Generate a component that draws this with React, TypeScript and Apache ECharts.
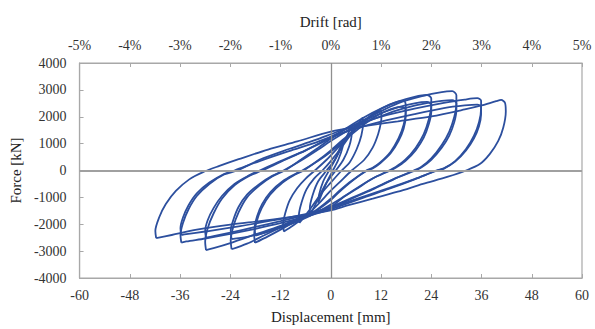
import React, { useEffect, useRef } from "react";
import * as echarts from "echarts";

// Axis ticks
const displacementTicks = [-60, -48, -36, -24, -12, 0, 12, 24, 36, 48, 60];
const driftTicks = [-5, -4, -3, -2, -1, 0, 1, 2, 3, 4, 5];
const forceTicks = [-4000, -3000, -2000, -1000, 0, 1000, 2000, 3000, 4000];

// Hysteresis loops [displacement mm, force kN]
const cycle3 = [[-3, -1200], [-2.8, -900], [-1.8, -400], [-0.4, 0], [1, 400], [3, 1150], [2.8, 850], [1.8, 400], [0.5, 0], [-1, -450], [-3, -1200]];
const cycle6 = [[-5, -1700], [-5, -1400], [-4.3, -900], [-3, -400], [-1, 0], [1, 400], [3, 1000], [5, 1650], [5, 1400], [4.4, 900], [3, 400], [1.2, 0], [-1, -450], [-3, -1050], [-5, -1700]];
const cycle9 = [[-7.5, -1950], [-7.6, -1650], [-7, -1200], [-5.8, -700], [-4, -300], [-2, 0], [0, 350], [3, 950], [5.5, 1500], [7.6, 1960], [7.7, 1750], [7.3, 1300], [6.2, 800], [4.5, 300], [2.6, 0], [0, -450], [-2.5, -900], [-5, -1450], [-7.5, -1950]];
const cycle12 = [[-11.2, -2270], [-11.4, -2000], [-10.9, -1600], [-9.8, -1100], [-8, -650], [-6, -300], [-3.8, 0], [-1, 400], [2, 900], [5, 1400], [8, 1850], [10.5, 2100], [11.9, 2220], [12.1, 2050], [12, 1800], [11.3, 1350], [10, 850], [8, 400], [5, 0], [2, -450], [0, -750], [-3, -1250], [-6, -1700], [-9, -2050], [-11.2, -2270]];
const cycle18a = [[-18.1, -2690], [-18.3, -2400], [-17.7, -1900], [-16.5, -1400], [-14.5, -900], [-11.5, -450], [-8.5, -150], [-6.5, 0], [-3, 380], [0, 750], [4, 1300], [8, 1850], [11, 2200], [14, 2450], [16.5, 2580], [17.5, 2590], [17.9, 2450], [17.9, 2200], [17.4, 1700], [16.2, 1200], [14.3, 700], [11.8, 300], [10, 100], [8.5, 0], [5, -400], [2, -800], [0, -1100], [-4, -1550], [-8, -1850], [-12, -2200], [-15, -2450], [-18.1, -2690]];
const cycle18b = [[-18, -2420], [-18.2, -2150], [-17.6, -1700], [-16.4, -1250], [-14.4, -800], [-11.5, -400], [-8.5, -130], [-6.8, 0], [-3, 360], [0, 700], [4, 1220], [8, 1720], [11, 2040], [14, 2260], [16.5, 2370], [17.8, 2300], [17.9, 2020], [17.4, 1550], [16.2, 1100], [14.3, 640], [11.8, 270], [10, 80], [8.7, 0], [5, -380], [2, -760], [0, -1050], [-4, -1530], [-8, -1800], [-12, -2080], [-15, -2280], [-18, -2420]];
const cycle24a = [[-23.7, -2930], [-23.9, -2600], [-23.3, -2100], [-22, -1550], [-20, -1000], [-17, -550], [-14, -220], [-11, 0], [-7, 420], [-3, 850], [0, 1180], [4, 1600], [8, 1980], [12, 2300], [16, 2560], [20, 2740], [23, 2810], [24, 2680], [24, 2400], [23.4, 1900], [22.2, 1350], [20.3, 850], [17.8, 400], [15.5, 130], [13.9, 0], [10, -300], [6, -700], [3, -1000], [0, -1350], [-4, -1580], [-8, -1830], [-12, -2120], [-16, -2420], [-20, -2720], [-23.7, -2930]];
const cycle24b = [[-23.7, -2550], [-23.9, -2250], [-23.3, -1850], [-22, -1350], [-20, -900], [-17, -500], [-14, -200], [-11.3, 0], [-7, 380], [-3, 780], [0, 1100], [4, 1480], [8, 1840], [12, 2130], [16, 2350], [20, 2500], [23, 2550], [24, 2430], [24, 2180], [23.4, 1720], [22.2, 1220], [20.3, 760], [17.8, 350], [15.5, 100], [14.2, 0], [10, -300], [6, -680], [3, -980], [0, -1270], [-4, -1620], [-8, -1900], [-12, -2130], [-16, -2320], [-20, -2470], [-23.7, -2550]];
const cycle30a = [[-29.8, -2960], [-30, -2650], [-29.4, -2150], [-28, -1600], [-26, -1050], [-23, -550], [-19.5, -200], [-16.4, 0], [-12, 320], [-6, 750], [0, 1250], [5, 1650], [10, 2050], [16, 2500], [22, 2780], [26.5, 2920], [29, 2950], [30, 2800], [30, 2500], [29.5, 2000], [28.3, 1450], [26.5, 950], [24, 450], [21.5, 120], [19.8, 0], [15, -330], [10, -700], [5, -1050], [0, -1400], [-4, -1600], [-8, -1820], [-12, -2060], [-18, -2380], [-24, -2700], [-28, -2890], [-29.8, -2960]];
const cycle30b = [[-29.8, -2500], [-30, -2250], [-29.4, -1850], [-28, -1400], [-26, -950], [-23, -500], [-19.5, -180], [-17, 0], [-12, 350], [-6, 750], [0, 1200], [5, 1550], [10, 1900], [16, 2250], [22, 2480], [26.5, 2590], [29, 2620], [30, 2500], [30, 2250], [29.5, 1800], [28.3, 1300], [26.5, 850], [24, 400], [21.5, 100], [20.2, 0], [15, -320], [10, -680], [5, -1020], [0, -1350], [-6, -1650], [-12, -1880], [-18, -2100], [-24, -2310], [-28, -2440], [-29.8, -2500]];
const cycle36a = [[-35.7, -2680], [-35.9, -2400], [-35.3, -1950], [-34, -1450], [-32, -950], [-29, -500], [-25.5, -150], [-22.3, 0], [-17, 400], [-10, 800], [-4, 1120], [0, 1350], [6, 1700], [12, 2000], [20, 2300], [27, 2520], [32, 2640], [35, 2690], [35.9, 2600], [35.9, 2300], [35.4, 1800], [34.2, 1300], [32.3, 800], [29.7, 350], [27, 80], [25.2, 0], [20, -330], [14, -680], [8, -1000], [3, -1280], [0, -1450], [-6, -1720], [-12, -1960], [-18, -2170], [-24, -2360], [-30, -2530], [-34.5, -2640], [-35.7, -2680]];
const cycle36b = [[-35.7, -2400], [-35.9, -2150], [-35.3, -1750], [-34, -1300], [-32, -850], [-29, -450], [-25.5, -130], [-23, 0], [-17, 350], [-10, 720], [-4, 1020], [0, 1250], [6, 1560], [12, 1820], [20, 2100], [27, 2320], [32, 2420], [35, 2450], [35.9, 2380], [35.9, 2100], [35.4, 1650], [34.2, 1200], [32.3, 750], [29.7, 330], [27, 70], [25.5, 0], [20, -320], [14, -650], [8, -960], [3, -1230], [0, -1380], [-6, -1620], [-14, -1860], [-22, -2080], [-30, -2270], [-34.5, -2370], [-35.7, -2400]];
const cycle42 = [[-41.7, -2520], [-41.9, -2250], [-41, -1750], [-39.4, -1250], [-37, -760], [-33.8, -330], [-30.5, -60], [-26.6, 170], [-22, 420], [-15, 780], [-8, 1080], [0, 1450], [8, 1650], [16, 1830], [24, 2010], [32, 2270], [36, 2420], [39.5, 2580], [40.7, 2625], [41.6, 2520], [41.8, 2200], [41.2, 1600], [40, 1100], [38, 620], [35.6, 240], [32.3, 0], [28, -230], [22, -500], [16, -790], [10, -1050], [4, -1300], [0, -1480], [-8, -1700], [-16, -1870], [-24, -2010], [-32, -2200], [-38, -2400], [-41.7, -2520]];

const loops = [cycle3, cycle6, cycle9, cycle12, cycle18a, cycle18b, cycle24a, cycle24b, cycle30a, cycle30b, cycle36a, cycle36b, cycle42];

const FONT = '"Liberation Serif", "Times New Roman", serif';
const LINE_BLUE = "#2c4f9e";
const GRAY = "#a8a8a8";

export default function App() {
  const ref = useRef<HTMLDivElement>(null);
  useEffect(() => {
    if (!ref.current) return;
    const chart = echarts.init(ref.current, undefined, { renderer: "svg" });
    const tickLabel = { fontFamily: FONT, fontSize: 14, color: "#333" };
    const nameText = { fontFamily: FONT, fontSize: 15, color: "#222" };
    const series: any[] = loops.map((pts) => ({
      type: "line",
      data: pts,
      xAxisIndex: 0,
      yAxisIndex: 0,
      showSymbol: false,
      smooth: 0.3,
      z: 3,
      lineStyle: { color: LINE_BLUE, width: 1.8 },
      itemStyle: { color: LINE_BLUE },
      silent: true,
    }));
    series.unshift({
      type: "line",
      data: [],
      z: 1,
      markLine: {
        silent: true,
        symbol: "none",
        label: { show: false },
        animation: false,
        data: [
          { xAxis: 0, lineStyle: { color: "#8f8f8f", width: 1.3, type: "solid" } },
          { yAxis: 0, lineStyle: { color: "#a0a0a0", width: 2, type: "solid" } },
        ],
      },
    });
    chart.setOption({
      animation: false,
      backgroundColor: "#ffffff",
      grid: {
        left: 76,
        right: 13,
        top: 63,
        bottom: 49,
        show: true,
        borderColor: GRAY,
        borderWidth: 1.2,
        backgroundColor: "transparent",
      },
      xAxis: [
        {
          type: "value",
          position: "bottom",
          min: displacementTicks[0],
          max: displacementTicks[displacementTicks.length - 1],
          interval: displacementTicks[1] - displacementTicks[0],
          name: "Displacement [mm]",
          nameLocation: "middle",
          nameGap: 31,
          nameTextStyle: nameText,
          axisLine: { show: true, onZero: false, lineStyle: { color: GRAY, width: 1.2 } },
          axisTick: { show: true, inside: true, length: 4, lineStyle: { color: GRAY } },
          axisLabel: { ...tickLabel, margin: 10, formatter: (v: number) => String(v) },
          splitLine: { show: false },
        },
        {
          type: "value",
          position: "top",
          min: driftTicks[0],
          max: driftTicks[driftTicks.length - 1],
          interval: driftTicks[1] - driftTicks[0],
          name: "Drift [rad]",
          nameLocation: "middle",
          nameGap: 34,
          nameTextStyle: nameText,
          axisLine: { show: true, onZero: false, lineStyle: { color: GRAY, width: 1.2 } },
          axisTick: { show: true, inside: true, length: 4, lineStyle: { color: GRAY } },
          axisLabel: { ...tickLabel, margin: 11, formatter: (v: number) => `${v}%` },
          splitLine: { show: false },
        },
      ],
      yAxis: {
        type: "value",
        min: forceTicks[0],
        max: forceTicks[forceTicks.length - 1],
        interval: forceTicks[1] - forceTicks[0],
        name: "Force [kN]",
        nameLocation: "middle",
        nameGap: 52,
        nameRotate: 90,
        nameTextStyle: nameText,
        axisLine: { show: true, onZero: false, lineStyle: { color: GRAY, width: 1.2 } },
        axisTick: { show: true, inside: true, length: 4, lineStyle: { color: GRAY } },
        axisLabel: { ...tickLabel, margin: 13, formatter: (v: number) => String(v) },
        splitLine: { show: false },
      },
      series,
    });
    return () => chart.dispose();
  }, []);
  return (
    <div
      ref={ref}
      style={{ position: "absolute", left: 0, top: 0, width: 595, height: 329, background: "#fff" }}
    />
  );
}
